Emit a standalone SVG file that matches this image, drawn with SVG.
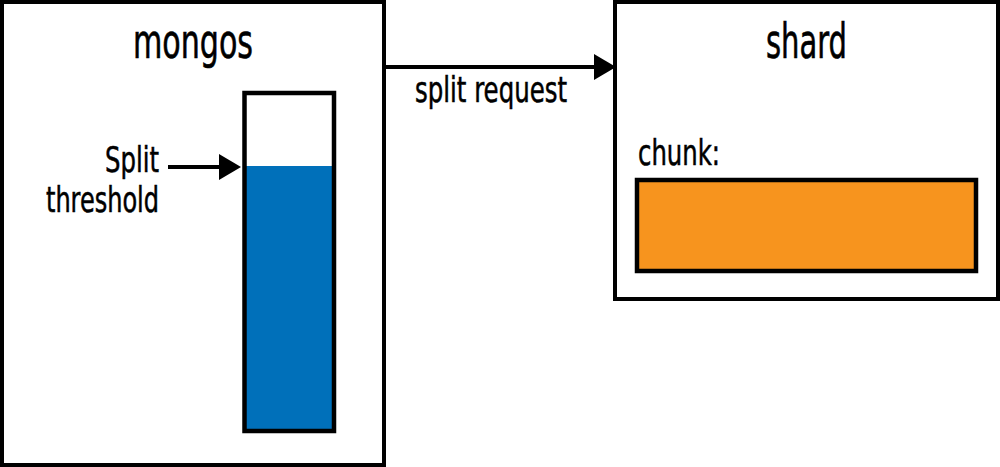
<svg xmlns="http://www.w3.org/2000/svg" width="1000" height="467" viewBox="0 0 1000 467">
  <style>
    .box { fill: #ffffff; stroke: #000000; stroke-width: 4; }
    .inner { stroke: #000000; stroke-width: 4.5; }
    .big { font-family: "DejaVu Sans Condensed", "Liberation Sans Narrow", "Open Sans", sans-serif; font-size: 48px; fill: #000000; stroke: #000000; stroke-width: 0.6; }
    .small { font-family: "DejaVu Sans Condensed", "Liberation Sans Narrow", "Open Sans", sans-serif; font-size: 35px; fill: #000000; stroke: #000000; stroke-width: 0.5; }
    .conn { stroke: #000000; stroke-width: 4; fill: none; }
  </style>
  <defs>
    <marker id="arrow" markerUnits="userSpaceOnUse" markerWidth="22" markerHeight="26" refX="0" refY="13" orient="auto">
      <path d="M0,0 L22,13 L0,26 Z" fill="#000000"/>
    </marker>
  </defs>
  <rect x="0" y="0" width="1000" height="467" fill="#ffffff"/>

  <g id="mongos">
    <rect class="box" x="2" y="2" width="382" height="463"/>
    <text class="big" x="133" y="58" textLength="120" lengthAdjust="spacingAndGlyphs">mongos</text>
  </g>

  <g id="bar">
    <rect x="244.5" y="93" width="89.5" height="338" fill="#ffffff"/>
    <rect x="244.5" y="166" width="89.5" height="265" fill="#0070BA"/>
    <rect class="inner" x="244.5" y="93" width="89.5" height="338" fill="none"/>
  </g>

  <g id="split-threshold-label">
    <text class="small" x="105" y="172" textLength="54" lengthAdjust="spacingAndGlyphs">Split</text>
    <text class="small" x="46" y="212" textLength="113" lengthAdjust="spacingAndGlyphs">threshold</text>
  </g>

  <g id="shard">
    <rect class="box" x="615" y="2" width="383" height="297"/>
    <text class="big" x="766" y="58" textLength="81" lengthAdjust="spacingAndGlyphs">shard</text>
    <text class="small" x="638" y="165" textLength="82" lengthAdjust="spacingAndGlyphs">chunk:</text>
  </g>

  <g id="chunk">
    <rect class="inner" x="637" y="180" width="339" height="91" fill="#F7941E"/>
  </g>

  <g id="connectors">
    <line class="conn" x1="386" y1="67" x2="594" y2="67" marker-end="url(#arrow)"/>
    <text class="small" x="415" y="102" textLength="152" lengthAdjust="spacingAndGlyphs">split request</text>
    <line class="conn" x1="168" y1="167" x2="219" y2="167" marker-end="url(#arrow)"/>
  </g>
</svg>
